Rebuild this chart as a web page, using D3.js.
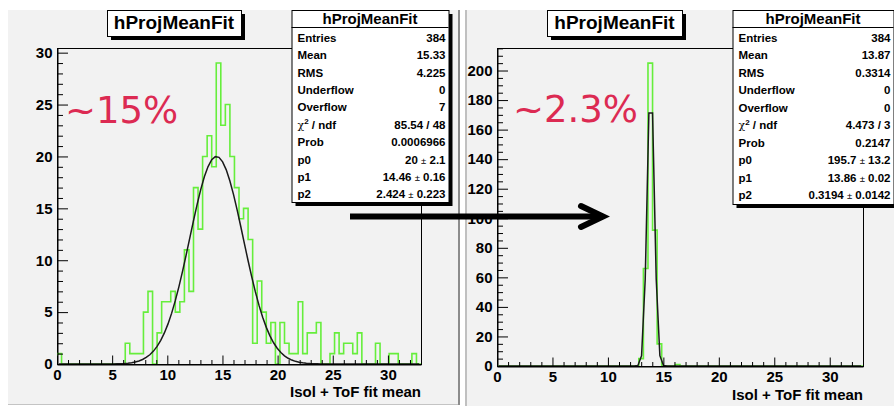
<!DOCTYPE html>
<html>
<head>
<meta charset="utf-8">
<script src="https://cdn.jsdelivr.net/npm/d3@7"></script>
<style>
  body { margin: 0; background: #ffffff; }
  svg { display: block; }
</style>
</head>
<body>
<script>
// ---- data -------------------------------------------------------------
// 80 bins spanning 0..33 (Isol + ToF fit mean)
const xRange = [0, 33];
const nBins = 80;

// bin contents, left panel (before)
const countsBefore = [
  1, 0, 0, 0, 0, 0, 0, 0, 0, 0,
  0, 0, 0, 0, 0, 2, 1, 1, 1, 5,
  7, 0, 3, 6, 6, 7, 5, 6, 11, 7,
  17, 13, 20, 22, 19, 29, 23, 25, 20, 17,
  14, 15, 12, 2, 8, 5, 2, 4, 0, 4,
  2, 1, 1, 6, 1, 3, 3, 4, 0, 0,
  1, 3, 1, 2, 2, 1, 3, 0, 0, 0,
  2, 0, 0, 1, 1, 0, 0, 0, 1, 0
];

// bin contents, right panel (after)
const countsAfter = [
  0, 0, 0, 0, 0, 0, 0, 0, 0, 0,
  0, 0, 0, 0, 0, 0, 0, 0, 0, 0,
  0, 0, 0, 0, 0, 0, 0, 0, 0, 0,
  0, 5, 66, 205, 92, 15, 0, 0, 0, 1,
  0, 0, 0, 0, 0, 0, 0, 0, 0, 0,
  0, 0, 0, 0, 0, 0, 0, 0, 0, 0,
  0, 0, 0, 0, 0, 0, 0, 0, 0, 0,
  0, 0, 0, 0, 0, 0, 0, 0, 0, 0
];

// gaussian fit parameters [p0, p1, p2]
const fitBefore = [20, 14.46, 2.424];
const fitAfter = [195.7, 13.86, 0.3194];

const histName = "hProjMeanFit";
const statLabels = ["Entries", "Mean", "RMS", "Underflow", "Overflow", "chi2", "Prob", "p0", "p1", "p2"];
const statsBefore = ["384", "15.33", "4.225", "0", "7", "85.54 / 48", "0.0006966", "20 ± 2.1", "14.46 ± 0.16", "2.424 ± 0.223"];
const statsAfter = ["384", "13.87", "0.3314", "0", "0", "4.473 / 3", "0.2147", "195.7 ± 13.2", "13.86 ± 0.02", "0.3194 ± 0.0142"];

const xTicks = [0, 5, 10, 15, 20, 25, 30];
const yTicksBefore = [0, 5, 10, 15, 20, 25, 30];
const yTicksAfter = [0, 20, 40, 60, 80, 100, 120, 140, 160, 180, 200];
const xTitle = "Isol + ToF fit mean";
const resolutionLabels = ["~15%", "~2.3%"];

// ---- drawing ----------------------------------------------------------
const W = 894, H = 406;
const svg = d3.select("body").append("svg")
  .attr("width", W).attr("height", H)
  .attr("viewBox", `0 0 ${W} ${H}`);

const FONT = "'Liberation Sans', Arial, Helvetica, sans-serif";

// canvas backgrounds
svg.append("rect").attr("x", 8).attr("y", 10).attr("width", 452).attr("height", 394).attr("fill", "#f2f2f2");
svg.append("line").attr("x1", 8).attr("x2", 460).attr("y1", 404.5).attr("y2", 404.5).attr("stroke", "#c4c4c4");
svg.append("line").attr("x1", 459).attr("x2", 459).attr("y1", 10).attr("y2", 405).attr("stroke", "#8c8c8c").attr("stroke-width", 2);
svg.append("rect").attr("x", 465).attr("y", 10).attr("width", 429).attr("height", 396).attr("fill", "#f2f2f2");
svg.append("line").attr("x1", 466).attr("x2", 466).attr("y1", 10).attr("y2", 406).attr("stroke", "#c0c0c0").attr("stroke-width", 2);

function drawPanel(cfg) {
  const g = svg.append("g");
  const f = cfg.frame;
  const x = d3.scaleLinear().domain(xRange).range([f.x0, f.x1]);
  const yMax = d3.max(cfg.counts) * 1.05;
  const y = d3.scaleLinear().domain([0, yMax]).range([f.y1, f.y0]);

  const clipId = "clip" + cfg.id;
  g.append("clipPath").attr("id", clipId)
    .append("rect").attr("x", f.x0).attr("y", f.y0)
    .attr("width", f.x1 - f.x0).attr("height", f.y1 - f.y0);

  // frame
  g.append("rect").attr("x", f.x0 + 0.5).attr("y", f.y0 + 0.5)
    .attr("width", f.x1 - f.x0).attr("height", f.y1 - f.y0)
    .attr("fill", "none").attr("stroke", "#000").attr("stroke-width", 1);

  // histogram outline
  const bw = (xRange[1] - xRange[0]) / nBins;
  const pts = [[xRange[0], 0]];
  cfg.counts.forEach((c, i) => {
    pts.push([xRange[0] + i * bw, c]);
    pts.push([xRange[0] + (i + 1) * bw, c]);
  });
  pts.push([xRange[1], 0]);
  const line = d3.line().x(d => x(d[0])).y(d => y(d[1]));
  g.append("path").attr("d", line(pts))
    .attr("clip-path", `url(#${clipId})`)
    .attr("fill", "none").attr("stroke", "#66ee3c").attr("stroke-width", 1.6);

  // gaussian fit, 100 samples at sample-bin centres
  const [p0, p1, p2] = cfg.fit;
  const npx = 100;
  const dx = (xRange[1] - xRange[0]) / npx;
  const fpts = d3.range(npx).map(i => {
    const xv = xRange[0] + (i + 0.5) * dx;
    return [xv, p0 * Math.exp(-0.5 * ((xv - p1) / p2) ** 2)];
  });
  g.append("path").attr("d", line(fpts))
    .attr("clip-path", `url(#${clipId})`)
    .attr("fill", "none").attr("stroke", "#1a1a1a").attr("stroke-width", 1.5);

  // x axis (ticks pointing into the frame)
  const minorX = d3.range(0, 34, 1).filter(v => !xTicks.includes(v));
  g.append("g").attr("transform", `translate(0,${f.y1 + 0.5})`)
    .call(d3.axisBottom(x).tickValues(minorX).tickSizeInner(-4.5).tickSizeOuter(0).tickFormat(""))
    .call(a => a.select(".domain").remove());
  const ax = g.append("g").attr("transform", `translate(0,${f.y1 + 0.5})`)
    .call(d3.axisBottom(x).tickValues(xTicks).tickSizeInner(-9).tickSizeOuter(0).tickPadding(4.5).tickFormat(d3.format("d")));
  ax.select(".domain").attr("stroke", "#000");
  ax.selectAll("text").attr("font-family", FONT).attr("font-weight", "bold").attr("font-size", 15).attr("fill", "#000");

  // y axis
  const minorY = d3.range(0, yMax, cfg.yMinor).filter(v => !cfg.yTicks.includes(v));
  g.append("g").attr("transform", `translate(${f.x0 + 0.5},0)`)
    .call(d3.axisLeft(y).tickValues(minorY).tickSizeInner(-5.5).tickSizeOuter(0).tickFormat(""))
    .call(a => a.select(".domain").remove());
  const ay = g.append("g").attr("transform", `translate(${f.x0 + 0.5},0)`)
    .call(d3.axisLeft(y).tickValues(cfg.yTicks).tickSizeInner(-10.5).tickSizeOuter(0).tickPadding(5).tickFormat(d3.format("d")));
  ay.select(".domain").attr("stroke", "#000");
  ay.selectAll("text").attr("font-family", FONT).attr("font-weight", "bold").attr("font-size", 15).attr("fill", "#000");

  // axis title
  g.append("text").attr("x", f.x1).attr("y", cfg.xTitleY)
    .attr("text-anchor", "end").attr("font-family", FONT).attr("font-weight", "bold")
    .attr("font-size", 15).text(xTitle);

  // title box
  const t = cfg.titleBox;
  g.append("rect").attr("x", t.x0 + 4).attr("y", t.y0 + 4).attr("width", t.x1 - t.x0).attr("height", t.y1 - t.y0).attr("fill", "#000");
  g.append("rect").attr("x", t.x0 + 0.5).attr("y", t.y0 + 0.5).attr("width", t.x1 - t.x0).attr("height", t.y1 - t.y0)
    .attr("fill", "#fff").attr("stroke", "#000");
  g.append("text").attr("x", (t.x0 + t.x1) / 2).attr("y", t.y0 + 18.5)
    .attr("text-anchor", "middle").attr("font-family", FONT).attr("font-weight", "bold")
    .attr("font-size", 19).text(histName);

  // statistics box
  const s = cfg.statBox;
  g.append("rect").attr("x", s.x0 + 4).attr("y", s.y0 + 4).attr("width", s.x1 - s.x0).attr("height", s.y1 - s.y0).attr("fill", "#000");
  g.append("rect").attr("x", s.x0 + 0.5).attr("y", s.y0 + 0.5).attr("width", s.x1 - s.x0).attr("height", s.y1 - s.y0)
    .attr("fill", "#fff").attr("stroke", "#000");
  g.append("line").attr("x1", s.x0).attr("x2", s.x1).attr("y1", s.y0 + 17.5).attr("y2", s.y0 + 17.5).attr("stroke", "#000");
  g.append("text").attr("x", (s.x0 + s.x1) / 2).attr("y", s.y0 + 14)
    .attr("text-anchor", "middle").attr("font-family", FONT).attr("font-weight", "bold")
    .attr("font-size", 15).text(histName);

  statLabels.forEach((lab, i) => {
    const yy = s.row0 + i * s.step;
    const lt = g.append("text").attr("x", s.x0 + 6).attr("y", yy)
      .attr("font-family", FONT).attr("font-weight", "bold").attr("font-size", 11.5);
    if (lab === "chi2") {
      lt.append("tspan").attr("font-weight", "normal").attr("font-family", "'DejaVu Serif', serif").attr("font-size", 11).text("χ");
      lt.append("tspan").attr("dy", -4.5).attr("font-size", 8).text("2");
      lt.append("tspan").attr("dy", 4.5).text(" / ndf");
    } else {
      lt.text(lab);
    }
    const vt = g.append("text").attr("x", s.x1 - 3).attr("y", yy).attr("text-anchor", "end")
      .attr("font-family", FONT).attr("font-weight", "bold").attr("font-size", 11.5);
    const val = cfg.stats[i];
    if (val.includes("±")) {
      const [a, b] = val.split(" ± ");
      vt.append("tspan").text(a + " ");
      vt.append("tspan").attr("font-weight", "normal").attr("font-size", 9.5).text("±");
      vt.append("tspan").text(" " + b);
    } else {
      vt.text(val);
    }
  });

  // resolution annotation
  g.append("text").attr("x", cfg.note.x).attr("y", cfg.note.y)
    .attr("font-family", "'DejaVu Sans', sans-serif").attr("font-size", 37)
    .attr("fill", "#dc2a52").text(cfg.note.text);
}

drawPanel({
  id: "L",
  counts: countsBefore, fit: fitBefore, stats: statsBefore,
  frame: { x0: 57, x1: 421, y0: 48, y1: 364 },
  yTicks: yTicksBefore, yMinor: 1,
  xTitleY: 397,
  titleBox: { x0: 107, x1: 241, y0: 10, y1: 36 },
  statBox: { x0: 291.5, x1: 448.5, y0: 10, y1: 202, row0: 41.7, step: 17.4 },
  note: { x: 65, y: 123, text: resolutionLabels[0] }
});

drawPanel({
  id: "R",
  counts: countsAfter, fit: fitAfter, stats: statsAfter,
  frame: { x0: 497, x1: 863, y0: 48, y1: 366 },
  yTicks: yTicksAfter, yMinor: 5,
  xTitleY: 400,
  titleBox: { x0: 547, x1: 682, y0: 10, y1: 36 },
  statBox: { x0: 732.5, x1: 893.5, y0: 10, y1: 204, row0: 41.7, step: 17.5 },
  note: { x: 513, y: 122, text: resolutionLabels[1] }
});

// arrow linking the two panels
const arrow = svg.append("g").attr("stroke", "#000").attr("stroke-width", 6).attr("fill", "none");
arrow.append("line").attr("x1", 350).attr("x2", 601).attr("y1", 216.5).attr("y2", 216.5);
arrow.append("polyline").attr("points", "581,206 603,216.5 581,227")
  .attr("stroke-linecap", "round").attr("stroke-linejoin", "miter");
</script>
</body>
</html>
